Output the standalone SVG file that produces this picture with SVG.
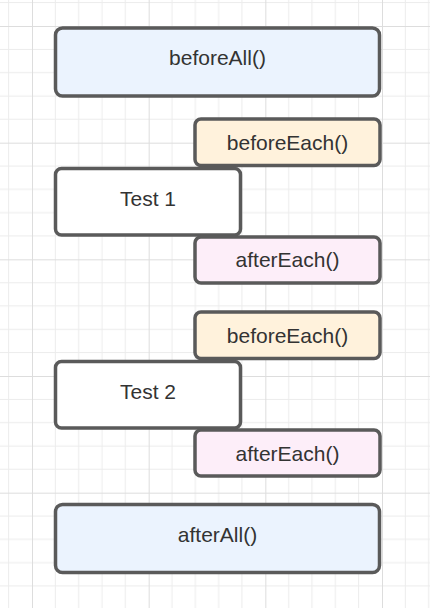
<svg xmlns="http://www.w3.org/2000/svg" width="430" height="608" viewBox="0 0 430 608">
<style>
.box{stroke:#5a5a5a;stroke-width:3.5}
.all{fill:#ebf3fe}
.be{fill:#fff2dc}
.ae{fill:#fdeef9}
.test{fill:#ffffff}
text{font-family:"Liberation Sans",Arial,sans-serif;font-size:21px;fill:#333333;text-anchor:middle}
</style>
<defs>
<pattern id="grid" patternUnits="userSpaceOnUse" x="32" y="26" width="116.667" height="116.667">
<path d="M23.333 0V116.667M46.667 0V116.667M70 0V116.667M93.333 0V116.667M0 23.333H116.667M0 46.667H116.667M0 70H116.667M0 93.333H116.667" stroke="#ececec" stroke-width="1" fill="none"/>
<path d="M0.5 0V116.667M0 0.5H116.667" stroke="#dddddd" stroke-width="1" fill="none"/>
</pattern>
</defs>
<rect width="430" height="608" fill="#ffffff"/>
<rect width="430" height="608" fill="url(#grid)"/>
<g id="connectors"></g>
<g id="beforeAll">
<rect class="box all" x="55.5" y="28" width="324" height="68" rx="7"/>
<text x="217.5" y="64.5">beforeAll()</text>
</g>
<g id="beforeEach1">
<rect class="box be" x="195" y="119" width="185" height="46.5" rx="6"/>
<text x="287.5" y="149.5">beforeEach()</text>
</g>
<g id="test1">
<rect class="box test" x="55.5" y="168.5" width="185" height="66.5" rx="6"/>
<text x="148" y="205.5">Test 1</text>
</g>
<g id="afterEach1">
<rect class="box ae" x="195" y="237" width="185" height="46" rx="6"/>
<text x="287.5" y="267.3">afterEach()</text>
</g>
<g id="beforeEach2">
<rect class="box be" x="195" y="312" width="185" height="46.5" rx="6"/>
<text x="287.5" y="342.5">beforeEach()</text>
</g>
<g id="test2">
<rect class="box test" x="55.5" y="361.5" width="185" height="66.5" rx="6"/>
<text x="148" y="398.5">Test 2</text>
</g>
<g id="afterEach2">
<rect class="box ae" x="195" y="430" width="185" height="46" rx="6"/>
<text x="287.5" y="460.5">afterEach()</text>
</g>
<g id="afterAll">
<rect class="box all" x="55.5" y="504.5" width="324" height="68" rx="7"/>
<text x="217.5" y="542.3">afterAll()</text>
</g>
</svg>
